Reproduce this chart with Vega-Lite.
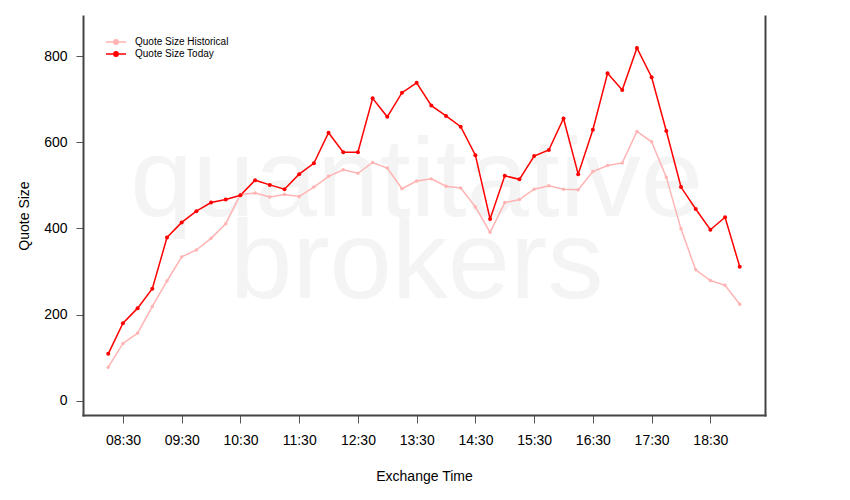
{
  "$schema": "https://vega.github.io/schema/vega-lite/v6.json",
  "width": 682,
  "height": 399,
  "autosize": {"type": "none"},
  "padding": {"left": 83, "top": 16, "right": 85, "bottom": 85},
  "background": "white",
  "config": {
    "view": {"stroke": null},
    "font": "Liberation Sans",
    "axis": {"labelFont": "Liberation Sans", "titleFont": "Liberation Sans", "labelColor": "#000", "titleColor": "#000", "titleFontWeight": "normal", "grid": false}
  },
  "data": {
    "values": [
      {"time": "08:15", "Quote Size Historical": 78, "Quote Size Today": 109},
      {"time": "08:30", "Quote Size Historical": 133, "Quote Size Today": 180},
      {"time": "08:45", "Quote Size Historical": 157, "Quote Size Today": 215},
      {"time": "09:00", "Quote Size Historical": 219, "Quote Size Today": 260},
      {"time": "09:15", "Quote Size Historical": 278, "Quote Size Today": 379},
      {"time": "09:30", "Quote Size Historical": 334, "Quote Size Today": 414},
      {"time": "09:45", "Quote Size Historical": 350, "Quote Size Today": 440},
      {"time": "10:00", "Quote Size Historical": 377, "Quote Size Today": 460},
      {"time": "10:15", "Quote Size Historical": 411, "Quote Size Today": 467},
      {"time": "10:30", "Quote Size Historical": 479, "Quote Size Today": 477},
      {"time": "10:45", "Quote Size Historical": 482, "Quote Size Today": 512},
      {"time": "11:00", "Quote Size Historical": 473, "Quote Size Today": 501},
      {"time": "11:15", "Quote Size Historical": 479, "Quote Size Today": 491},
      {"time": "11:30", "Quote Size Historical": 474, "Quote Size Today": 526},
      {"time": "11:45", "Quote Size Historical": 496, "Quote Size Today": 551},
      {"time": "12:00", "Quote Size Historical": 521, "Quote Size Today": 622},
      {"time": "12:15", "Quote Size Historical": 536, "Quote Size Today": 577},
      {"time": "12:30", "Quote Size Historical": 528, "Quote Size Today": 577},
      {"time": "12:45", "Quote Size Historical": 553, "Quote Size Today": 702},
      {"time": "13:00", "Quote Size Historical": 540, "Quote Size Today": 659},
      {"time": "13:15", "Quote Size Historical": 492, "Quote Size Today": 715},
      {"time": "13:30", "Quote Size Historical": 510, "Quote Size Today": 738},
      {"time": "13:45", "Quote Size Historical": 515, "Quote Size Today": 685},
      {"time": "14:00", "Quote Size Historical": 498, "Quote Size Today": 661},
      {"time": "14:15", "Quote Size Historical": 494, "Quote Size Today": 636},
      {"time": "14:30", "Quote Size Historical": 450, "Quote Size Today": 570},
      {"time": "14:45", "Quote Size Historical": 391, "Quote Size Today": 422},
      {"time": "15:00", "Quote Size Historical": 460, "Quote Size Today": 522},
      {"time": "15:15", "Quote Size Historical": 467, "Quote Size Today": 514},
      {"time": "15:30", "Quote Size Historical": 491, "Quote Size Today": 568},
      {"time": "15:45", "Quote Size Historical": 499, "Quote Size Today": 582},
      {"time": "16:00", "Quote Size Historical": 491, "Quote Size Today": 655},
      {"time": "16:15", "Quote Size Historical": 490, "Quote Size Today": 526},
      {"time": "16:30", "Quote Size Historical": 532, "Quote Size Today": 629},
      {"time": "16:45", "Quote Size Historical": 546, "Quote Size Today": 760},
      {"time": "17:00", "Quote Size Historical": 552, "Quote Size Today": 721},
      {"time": "17:15", "Quote Size Historical": 625, "Quote Size Today": 819},
      {"time": "17:30", "Quote Size Historical": 601, "Quote Size Today": 751},
      {"time": "17:45", "Quote Size Historical": 519, "Quote Size Today": 626},
      {"time": "18:00", "Quote Size Historical": 399, "Quote Size Today": 496},
      {"time": "18:15", "Quote Size Historical": 304, "Quote Size Today": 445},
      {"time": "18:30", "Quote Size Historical": 279, "Quote Size Today": 397},
      {"time": "18:45", "Quote Size Historical": 268, "Quote Size Today": 426},
      {"time": "19:00", "Quote Size Historical": 224, "Quote Size Today": 311}
    ],
    "format": {"parse": {"time": "utc:'%H:%M'"}}
  },
  "layer": [
    {
      "data": {"values": [{"word": "quantitative"}]},
      "mark": {"type": "text", "fontSize": 112, "color": "#f4f4f4", "align": "center", "baseline": "alphabetic", "font": "Liberation Sans"},
      "encoding": {
        "x": {"datum": {"year": 1900, "month": 1, "date": 1, "hours": 13, "minutes": 30, "utc": true}, "type": "temporal"},
        "y": {"datum": 428.6, "type": "quantitative", "axis": null},
        "text": {"field": "word", "type": "nominal"}
      }
    },
    {
      "data": {"values": [{"word": "brokers"}]},
      "mark": {"type": "text", "fontSize": 112, "color": "#f4f4f4", "align": "center", "baseline": "alphabetic", "font": "Liberation Sans"},
      "encoding": {
        "x": {"datum": {"year": 1900, "month": 1, "date": 1, "hours": 13, "minutes": 30, "utc": true}, "type": "temporal"},
        "y": {"datum": 239, "type": "quantitative", "axis": null},
        "text": {"field": "word", "type": "nominal"}
      }
    },
    {
      "transform": [{"fold": ["Quote Size Historical", "Quote Size Today"], "as": ["series", "value"]}],
      "mark": {"type": "line", "strokeWidth": 1.5},
      "encoding": {
        "x": {"field": "time", "type": "temporal",
              "scale": {"type": "utc", "domain": [{"year": 1900, "month": 1, "date": 1, "hours": 7, "minutes": 49, "seconds": 12, "utc": true}, {"year": 1900, "month": 1, "date": 1, "hours": 19, "minutes": 25, "seconds": 48, "utc": true}]},
              "axis": {
                "title": "Exchange Time",
                "values": [
                  {"year": 1900, "month": 1, "date": 1, "hours": 8, "minutes": 30, "utc": true},
                  {"year": 1900, "month": 1, "date": 1, "hours": 9, "minutes": 0, "utc": true},
                  {"year": 1900, "month": 1, "date": 1, "hours": 9, "minutes": 30, "utc": true},
                  {"year": 1900, "month": 1, "date": 1, "hours": 10, "minutes": 0, "utc": true},
                  {"year": 1900, "month": 1, "date": 1, "hours": 10, "minutes": 30, "utc": true},
                  {"year": 1900, "month": 1, "date": 1, "hours": 11, "minutes": 0, "utc": true},
                  {"year": 1900, "month": 1, "date": 1, "hours": 11, "minutes": 30, "utc": true},
                  {"year": 1900, "month": 1, "date": 1, "hours": 12, "minutes": 0, "utc": true},
                  {"year": 1900, "month": 1, "date": 1, "hours": 12, "minutes": 30, "utc": true},
                  {"year": 1900, "month": 1, "date": 1, "hours": 13, "minutes": 0, "utc": true},
                  {"year": 1900, "month": 1, "date": 1, "hours": 13, "minutes": 30, "utc": true},
                  {"year": 1900, "month": 1, "date": 1, "hours": 14, "minutes": 0, "utc": true},
                  {"year": 1900, "month": 1, "date": 1, "hours": 14, "minutes": 30, "utc": true},
                  {"year": 1900, "month": 1, "date": 1, "hours": 15, "minutes": 0, "utc": true},
                  {"year": 1900, "month": 1, "date": 1, "hours": 15, "minutes": 30, "utc": true},
                  {"year": 1900, "month": 1, "date": 1, "hours": 16, "minutes": 0, "utc": true},
                  {"year": 1900, "month": 1, "date": 1, "hours": 16, "minutes": 30, "utc": true},
                  {"year": 1900, "month": 1, "date": 1, "hours": 17, "minutes": 0, "utc": true},
                  {"year": 1900, "month": 1, "date": 1, "hours": 17, "minutes": 30, "utc": true},
                  {"year": 1900, "month": 1, "date": 1, "hours": 18, "minutes": 0, "utc": true},
                  {"year": 1900, "month": 1, "date": 1, "hours": 18, "minutes": 30, "utc": true},
                  {"year": 1900, "month": 1, "date": 1, "hours": 19, "minutes": 0, "utc": true}
                ],
                "labelExpr": "utcminutes(datum.value) == 30 ? utcFormat(datum.value, '%H:%M') : ''",
                "labelFontSize": 14,
                "labelPadding": 10,
                "labelFlush": false,
                "labelOverlap": false,
                "tickSize": 8,
                "tickColor": "#555",
                "tickWidth": 1,
                "domainColor": "#444",
                "domainWidth": 2,
                "domainCap": "square",
                "titleFontSize": 14,
                "titlePadding": 22
              }},
        "y": {"field": "value", "type": "quantitative",
              "scale": {"domain": [-33, 893], "nice": false, "zero": false},
              "axis": {
                "orient": "left",
                "title": "Quote Size",
                "values": [0, 200, 400, 600, 800],
                "labelAngle": 0,
                "labelFontSize": 14,
                "labelPadding": 9,
                "tickSize": 7,
                "tickColor": "#555",
                "tickWidth": 1,
                "domainColor": "#444",
                "domainWidth": 2,
                "domainCap": "square",
                "titleFontSize": 14,
                "titlePadding": 12
              }},
        "color": {"field": "series", "type": "nominal",
                  "scale": {"domain": ["Quote Size Historical", "Quote Size Today"], "range": ["#ffb3b3", "#ff0000"]},
                  "legend": {
                    "title": null,
                    "orient": "none",
                    "legendX": 27,
                    "legendY": 20,
                    "padding": 0,
                    "symbolType": "M-2,0H2M0.44,0A0.44,0.44,0,1,1,-0.44,0A0.44,0.44,0,1,1,0.44,0Z",
                    "symbolSize": 100,
                    "symbolStrokeWidth": 1.5,
                    "labelFontSize": 10,
                    "labelFont": "Liberation Sans",
                    "labelColor": "#000",
                    "labelOffset": 13,
                    "rowPadding": -1,
                    "encode": {"symbols": {"update": {
                      "fill": {"scale": "color", "field": "value"},
                      "stroke": {"scale": "color", "field": "value"},
                      "size": {"value": 100},
                      "opacity": {"value": 1},
                      "strokeWidth": {"value": 1.5}
                    }}}
                  }}
      }
    },
    {
      "transform": [
        {"fold": ["Quote Size Historical", "Quote Size Today"], "as": ["series", "value"]},
        {"filter": "datum.series == 'Quote Size Historical'"}
      ],
      "mark": {"type": "circle", "opacity": 1, "size": 12},
      "encoding": {
        "x": {"field": "time", "type": "temporal"},
        "y": {"field": "value", "type": "quantitative", "axis": null},
        "color": {"field": "series", "type": "nominal", "legend": null}
      }
    },
    {
      "transform": [
        {"fold": ["Quote Size Historical", "Quote Size Today"], "as": ["series", "value"]},
        {"filter": "datum.series == 'Quote Size Today'"}
      ],
      "mark": {"type": "circle", "opacity": 1, "size": 16},
      "encoding": {
        "x": {"field": "time", "type": "temporal"},
        "y": {"field": "value", "type": "quantitative",
              "axis": {"orient": "right", "labels": false, "ticks": false, "title": null, "domainColor": "#444", "domainWidth": 2, "domainCap": "square"}},
        "color": {"field": "series", "type": "nominal", "legend": null}
      }
    }
  ],
  "resolve": {"axis": {"y": "independent"}}
}
